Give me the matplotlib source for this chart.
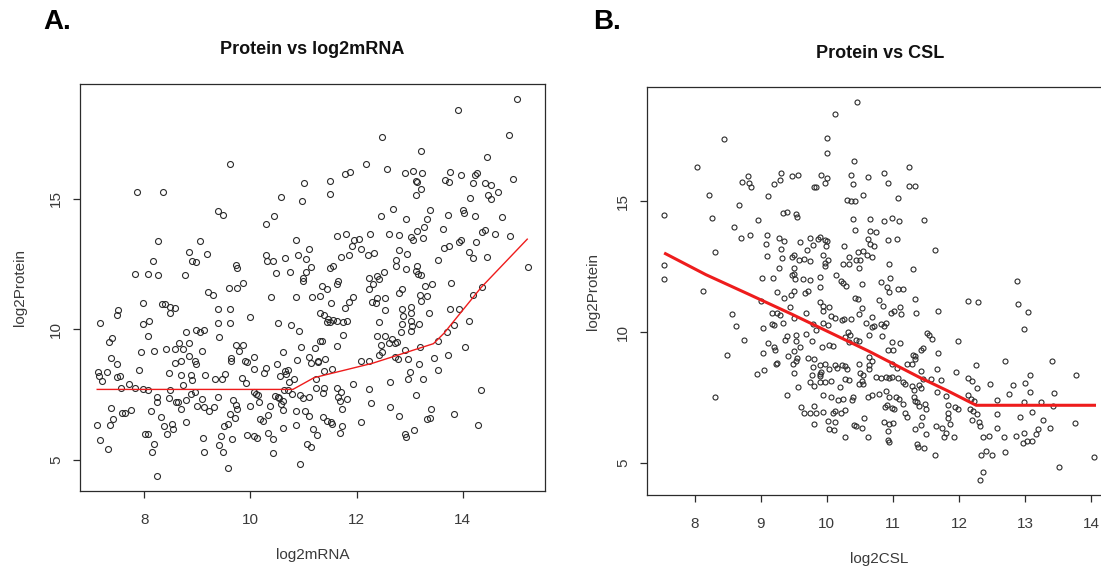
import numpy as np
import matplotlib.pyplot as plt

plt.rcParams['font.family'] = ['Liberation Sans', 'DejaVu Sans']

# panel A: log2mRNA vs log2Protein
mrna_pts = [
    (7.86, 15.24), (8.35, 15.24), (9.39, 14.54), (9.48, 14.38), (8.25, 13.38), (9.04, 13.38),
    (8.85, 12.97), (9.18, 12.88), (8.16, 12.63), (8.89, 12.63), (8.98, 12.59), (7.82, 12.12),
    (8.06, 12.12), (8.25, 12.09), (8.77, 12.09), (9.20, 11.44), (9.29, 11.33), (7.97, 10.99),
    (8.33, 10.96), (8.38, 10.96), (8.49, 10.86), (8.58, 10.81), (8.48, 10.63), (7.50, 10.73),
    (7.48, 10.54), (9.38, 10.77), (7.17, 10.23), (7.97, 10.19), (8.08, 10.31), (9.38, 10.26),
    (8.06, 9.74), (8.98, 9.96), (9.04, 9.90), (9.13, 9.96), (8.79, 9.88), (9.40, 9.69),
    (7.39, 9.67), (7.33, 9.50), (8.65, 9.48), (8.84, 9.48), (8.40, 9.23), (8.57, 9.23),
    (8.72, 9.23), (7.94, 9.13), (8.18, 9.17), (9.08, 9.17), (7.37, 8.90), (7.48, 8.69),
    (8.85, 8.97), (8.57, 8.71), (8.69, 8.79), (8.95, 8.79), (8.98, 8.68), (7.89, 8.45),
    (7.13, 8.38), (7.15, 8.23), (7.20, 8.03), (7.30, 8.36), (7.48, 8.17), (7.54, 8.22),
    (8.46, 8.31), (8.69, 8.26), (8.87, 8.26), (8.89, 8.05), (9.15, 8.26), (9.34, 8.08),
    (9.47, 8.08), (9.52, 8.29), (7.55, 7.76), (7.70, 7.89), (7.82, 7.76), (7.97, 7.72),
    (8.06, 7.68), (8.48, 7.69), (8.72, 7.87), (8.87, 7.53), (8.96, 7.62), (8.23, 7.40),
    (8.23, 7.23), (8.46, 7.37), (8.60, 7.21), (8.63, 7.21), (8.69, 6.95), (8.79, 7.30),
    (9.00, 7.05), (9.09, 7.33), (9.13, 7.01), (9.22, 6.88), (9.31, 7.01), (9.38, 7.41),
    (7.37, 7.00), (7.41, 6.56), (7.35, 6.35), (7.58, 6.78), (7.63, 6.78), (7.75, 6.92),
    (8.13, 6.89), (7.11, 6.35), (7.17, 5.78), (7.31, 5.41), (8.31, 6.65), (8.78, 6.46),
    (8.36, 6.31), (8.52, 6.37), (8.43, 5.99), (8.53, 6.17), (8.01, 5.99), (8.07, 6.01),
    (8.19, 5.63), (8.14, 5.29), (9.11, 5.86), (9.13, 5.32), (9.44, 5.90), (9.41, 5.56),
    (9.48, 5.32), (9.50, 6.31), (8.23, 4.39),
    (9.62, 16.31), (11.01, 15.58), (11.50, 15.69), (11.50, 15.19), (11.78, 15.95), (11.88, 16.03),
    (12.18, 16.31), (10.57, 15.05), (10.98, 14.90), (10.29, 14.03), (10.44, 14.32), (10.85, 13.41),
    (11.11, 13.08), (11.63, 13.56), (11.80, 13.65), (11.95, 13.42), (12.04, 13.45), (11.92, 13.17),
    (12.09, 13.08), (12.26, 13.65), (12.21, 12.85), (10.30, 12.85), (10.31, 12.62), (10.43, 12.63),
    (10.65, 12.73), (10.90, 12.85), (11.05, 12.69), (11.14, 12.40), (11.04, 12.21), (10.48, 12.17),
    (10.74, 12.21), (9.72, 12.46), (9.75, 12.33), (10.99, 11.95), (11.00, 11.86), (11.50, 12.33),
    (11.55, 12.42), (11.70, 12.77), (11.85, 12.83), (11.64, 11.72), (11.66, 11.85), (11.35, 11.64),
    (11.45, 11.56), (9.60, 11.60), (9.75, 11.60), (9.85, 11.78), (10.38, 11.23), (10.85, 11.22),
    (11.16, 11.23), (11.31, 11.26), (11.52, 10.99), (11.79, 10.82), (11.85, 11.05), (11.93, 11.23),
    (12.24, 11.97), (12.24, 11.56), (12.29, 11.05), (9.62, 10.76), (9.99, 10.46), (9.62, 10.26),
    (10.52, 10.26), (10.76, 10.15), (10.92, 9.92), (11.31, 10.64), (11.38, 10.56), (11.47, 10.41),
    (11.50, 10.28), (11.44, 10.28), (11.55, 10.35), (11.63, 10.33), (11.75, 10.28), (11.83, 10.33),
    (11.74, 9.79), (11.35, 9.56), (11.31, 9.54), (11.22, 9.28), (10.96, 9.32), (11.63, 9.37),
    (9.72, 9.41), (9.85, 9.41), (9.79, 9.18), (9.63, 8.90), (9.63, 8.79), (9.90, 8.79),
    (9.93, 8.76), (10.07, 8.94), (10.07, 8.50), (10.29, 8.51), (10.26, 8.33), (10.61, 9.12),
    (10.50, 8.67), (10.66, 8.42), (10.70, 8.44), (10.67, 8.29), (10.87, 8.81), (11.11, 8.94),
    (11.14, 8.73), (11.27, 8.78), (11.28, 8.76), (11.41, 8.85), (11.53, 8.48), (11.38, 8.39),
    (11.24, 8.10), (9.84, 8.13), (9.92, 7.94), (10.55, 8.21), (10.72, 8.00), (10.82, 8.10),
    (11.23, 7.74), (11.39, 7.74), (11.36, 7.58), (11.63, 7.74), (11.70, 7.62), (11.93, 7.91),
    (12.09, 8.79), (12.24, 8.79), (10.07, 7.62), (10.10, 7.53), (10.15, 7.49), (10.63, 7.69),
    (10.70, 7.69), (10.79, 7.53), (10.47, 7.46), (10.51, 7.40), (10.53, 7.36), (10.62, 7.27),
    (10.58, 7.14), (10.62, 6.91), (9.68, 7.28), (9.73, 7.10), (9.75, 6.97), (9.99, 7.05),
    (10.17, 7.20), (10.37, 7.05), (10.94, 7.49), (11.00, 7.36), (11.11, 7.40), (11.66, 7.41),
    (11.68, 7.27), (11.83, 7.32), (11.73, 6.95), (12.23, 7.73), (12.28, 7.18), (9.62, 6.76),
    (9.71, 6.59), (9.57, 6.37), (9.65, 5.79), (10.18, 6.56), (10.23, 6.50), (10.33, 6.72),
    (10.86, 6.88), (11.02, 6.88), (11.11, 6.67), (10.86, 6.33), (10.61, 6.21), (11.36, 6.63),
    (11.45, 6.50), (11.52, 6.44), (11.54, 6.37), (11.72, 6.31), (11.69, 6.05), (11.18, 6.18),
    (11.26, 5.96), (9.93, 5.96), (10.07, 5.90), (10.12, 5.86), (10.34, 6.05), (10.42, 5.79),
    (12.09, 6.47), (11.07, 5.63), (11.14, 5.49), (10.42, 5.26), (10.94, 4.85), (9.58, 4.69),
    (15.02, 18.81), (13.92, 18.40), (14.88, 17.44), (12.49, 17.37), (13.22, 16.83), (14.46, 16.58),
    (12.58, 16.12), (12.92, 16.00), (13.07, 16.06), (13.24, 15.99), (13.13, 15.69), (13.15, 15.65),
    (13.21, 15.36), (13.12, 15.13), (13.77, 16.01), (13.66, 15.70), (13.75, 15.64), (13.98, 15.90),
    (14.19, 15.59), (14.24, 15.92), (14.27, 15.97), (14.42, 15.58), (14.54, 15.54), (14.66, 15.24),
    (14.48, 15.15), (14.53, 14.99), (14.14, 15.01), (14.96, 15.77), (12.68, 14.60), (12.47, 14.33),
    (12.93, 14.24), (13.39, 14.55), (13.33, 14.21), (13.27, 13.90), (13.15, 13.77), (13.03, 13.54),
    (13.07, 13.41), (13.26, 13.49), (13.73, 14.37), (14.01, 14.56), (14.03, 14.45), (14.23, 14.33),
    (14.75, 14.30), (12.61, 13.65), (12.81, 13.62), (13.63, 13.83), (14.36, 13.74), (14.42, 13.79),
    (14.62, 13.65), (14.90, 13.58), (13.97, 13.42), (13.94, 13.36), (14.25, 13.36), (13.65, 13.13),
    (13.75, 13.18), (12.80, 13.03), (12.95, 12.88), (12.33, 12.92), (12.75, 12.67), (12.75, 12.42),
    (12.94, 12.32), (13.54, 12.67), (14.13, 12.97), (14.20, 12.74), (14.47, 12.77), (13.15, 12.44),
    (13.12, 12.24), (13.16, 12.12), (13.22, 12.08), (12.51, 12.21), (12.38, 12.05), (12.42, 11.92),
    (12.31, 11.72), (12.85, 11.56), (12.81, 11.40), (13.29, 11.64), (13.43, 11.74), (13.78, 11.78),
    (13.20, 11.33), (13.32, 11.28), (13.21, 11.10), (14.19, 11.33), (14.36, 11.62), (12.39, 11.20),
    (12.54, 11.20), (12.36, 10.99), (12.53, 10.72), (12.86, 10.77), (13.03, 10.86), (12.88, 10.50),
    (13.02, 10.63), (13.36, 10.64), (13.76, 10.77), (13.93, 10.77), (12.42, 10.27), (12.86, 10.21),
    (13.03, 10.33), (13.05, 10.13), (13.17, 10.19), (13.03, 9.95), (12.83, 9.88), (14.12, 10.33),
    (13.84, 10.15), (13.70, 9.88), (12.39, 9.74), (12.54, 9.74), (12.66, 9.62), (12.46, 9.41),
    (12.61, 9.49), (12.72, 9.49), (12.77, 9.53), (13.53, 9.54), (13.19, 9.32), (14.04, 9.31),
    (12.42, 9.03), (12.48, 9.13), (12.92, 9.19), (12.73, 8.94), (12.78, 8.85), (12.98, 8.85),
    (13.47, 8.90), (13.73, 9.00), (13.17, 8.68), (13.00, 8.38), (12.97, 8.10), (13.25, 8.10),
    (13.54, 8.45), (12.63, 8.00), (13.13, 7.49), (14.34, 7.68), (12.63, 7.03), (12.80, 6.69),
    (13.41, 6.97), (13.39, 6.62), (13.32, 6.58), (13.83, 6.77), (14.29, 6.32), (12.92, 5.99),
    (12.93, 5.89), (13.09, 6.14), (15.23, 12.38),
]

# panel B: log2CSL vs log2Protein
csl_pts = [
    (8.44, 17.37), (8.03, 16.30), (8.22, 15.23), (8.67, 14.87), (7.54, 14.48), (8.27, 14.36),
    (8.60, 14.01), (8.96, 14.30), (8.72, 15.75), (8.81, 15.97), (8.82, 15.69), (8.85, 15.53),
    (9.30, 16.08), (9.29, 15.83), (9.20, 15.65), (9.47, 15.95), (9.11, 15.19), (9.34, 14.56),
    (9.40, 14.59), (8.70, 13.61), (8.84, 13.73), (9.10, 13.73), (9.08, 13.37), (9.27, 13.61),
    (9.36, 13.50), (9.31, 13.19), (9.10, 12.93), (9.33, 12.85), (9.47, 12.89), (8.31, 13.05),
    (7.54, 12.58), (7.54, 12.05), (8.13, 11.57), (9.27, 12.46), (9.02, 12.09), (9.18, 12.09),
    (9.47, 12.19), (9.25, 11.52), (9.36, 11.32), (9.46, 11.41), (9.01, 11.20), (9.45, 10.97),
    (8.57, 10.71), (9.17, 10.75), (9.24, 10.75), (9.29, 10.66), (8.62, 10.24), (8.75, 9.71),
    (9.04, 10.17), (9.17, 10.31), (9.20, 10.28), (9.34, 10.36), (8.49, 9.13), (9.11, 9.58),
    (9.20, 9.45), (9.22, 9.33), (9.37, 9.69), (9.40, 9.86), (9.03, 9.19), (9.25, 8.83),
    (9.23, 8.78), (9.42, 9.10), (9.49, 8.78), (8.95, 8.40), (9.05, 8.55), (8.31, 7.54),
    (9.40, 7.61),
    (10.45, 18.79), (10.13, 18.35), (10.00, 17.43), (10.00, 16.83), (10.41, 16.54), (11.24, 16.30),
    (9.56, 15.99), (9.91, 16.02), (10.00, 15.90), (9.97, 15.70), (9.80, 15.53), (9.84, 15.55),
    (10.37, 15.99), (10.39, 15.66), (10.63, 15.94), (10.87, 16.07), (10.92, 15.69), (10.30, 15.06),
    (10.36, 15.03), (10.43, 15.01), (10.55, 15.23), (11.08, 15.14), (11.25, 15.57), (11.33, 15.59),
    (9.54, 14.53), (9.55, 14.42), (10.39, 14.31), (10.65, 14.31), (10.87, 14.25), (10.98, 14.35),
    (11.10, 14.25), (11.47, 14.30), (10.43, 13.91), (10.65, 13.87), (10.75, 13.83), (10.62, 13.55),
    (10.65, 13.36), (10.71, 13.30), (10.92, 13.52), (11.06, 13.55), (11.64, 13.14), (9.60, 13.45),
    (9.75, 13.61), (9.86, 13.55), (9.90, 13.64), (9.98, 13.52), (10.00, 13.49), (9.79, 13.32),
    (9.50, 12.94), (9.58, 12.76), (9.66, 12.79), (9.74, 12.72), (9.70, 13.14), (9.95, 12.94),
    (9.98, 12.63), (9.98, 12.53), (10.02, 12.76), (9.99, 13.31), (10.26, 13.31), (10.34, 12.87),
    (10.24, 12.60), (10.33, 12.60), (10.47, 13.07), (10.55, 13.10), (10.61, 12.95), (10.69, 12.87),
    (10.44, 12.75), (10.51, 12.76), (10.49, 12.46), (10.94, 12.62), (11.30, 12.43), (9.51, 12.47),
    (9.50, 12.24), (9.52, 12.05), (9.64, 12.02), (9.74, 11.99), (9.89, 12.11), (10.14, 12.19),
    (10.21, 11.95), (10.24, 11.88), (10.29, 11.77), (10.54, 11.83), (10.82, 11.92), (10.91, 11.71),
    (10.94, 11.54), (10.95, 12.07), (11.08, 11.67), (11.15, 11.67), (9.51, 11.58), (9.67, 11.49),
    (9.71, 11.59), (9.89, 11.74), (9.89, 11.16), (9.95, 11.02), (9.95, 10.81), (10.03, 10.98),
    (10.43, 11.32), (10.47, 11.26), (10.53, 10.94), (10.79, 11.22), (10.85, 11.00), (10.97, 10.74),
    (11.01, 10.81), (11.11, 10.97), (11.33, 11.28), (11.35, 10.74), (11.68, 10.80), (9.68, 10.73),
    (9.50, 10.56), (10.06, 10.62), (10.13, 10.56), (10.23, 10.47), (10.26, 10.50), (10.36, 10.50),
    (10.49, 10.69), (10.69, 10.60), (10.69, 10.20), (10.82, 10.33), (10.89, 10.36), (10.86, 10.22),
    (10.71, 10.23), (10.59, 10.34), (11.12, 10.69), (9.79, 10.33), (9.94, 10.37), (10.02, 10.27),
    (9.83, 10.08), (9.69, 9.92), (9.54, 9.90), (9.54, 9.67), (9.59, 9.45), (9.78, 9.67),
    (9.93, 9.45), (10.09, 9.47), (10.03, 9.53), (10.32, 9.99), (10.35, 9.90), (10.27, 9.80),
    (10.44, 9.70), (10.34, 9.61), (10.49, 9.66), (10.64, 9.90), (10.84, 9.86), (10.99, 9.63),
    (11.11, 9.58), (10.92, 9.33), (11.00, 9.33), (11.51, 9.96), (11.55, 9.90), (11.59, 9.75),
    (11.45, 9.39), (11.42, 9.33), (11.68, 9.21), (9.50, 9.29), (9.55, 9.01), (9.54, 8.92),
    (9.71, 9.01), (9.80, 8.96), (9.79, 8.69), (9.89, 8.74), (9.97, 8.80), (10.04, 8.61),
    (10.12, 8.74), (10.16, 8.65), (10.23, 8.74), (10.28, 8.72), (10.30, 8.59), (10.49, 8.77),
    (10.64, 9.06), (10.69, 8.91), (10.64, 8.74), (10.64, 8.59), (10.51, 8.46), (10.55, 8.36),
    (10.54, 8.14), (10.75, 8.30), (10.82, 8.27), (10.89, 8.30), (10.94, 8.27), (10.99, 8.30),
    (11.08, 8.27), (10.99, 8.77), (11.06, 8.65), (11.31, 9.12), (11.34, 9.10), (11.33, 8.97),
    (11.21, 8.80), (11.29, 8.80), (11.43, 8.52), (11.46, 8.23), (11.58, 8.21), (11.66, 8.59),
    (9.50, 8.46), (9.56, 7.89), (9.78, 8.37), (9.91, 8.50), (9.89, 8.40), (9.90, 8.31),
    (9.90, 8.08), (9.75, 8.10), (9.80, 7.95), (9.98, 8.10), (10.06, 8.14), (10.28, 8.23),
    (10.34, 8.17), (10.49, 8.02), (10.55, 8.03), (10.20, 7.89), (11.16, 8.10), (11.19, 8.02),
    (11.29, 7.95), (11.32, 7.80), (11.39, 7.98), (11.43, 7.86), (11.73, 8.18), (11.66, 7.70),
    (10.63, 7.53), (10.69, 7.62), (10.79, 7.63), (10.89, 7.76), (10.94, 7.52), (9.95, 7.61),
    (10.07, 7.51), (10.17, 7.43), (10.24, 7.44), (10.38, 7.43), (10.40, 7.51), (9.61, 7.16),
    (9.66, 6.93), (9.74, 6.93), (9.84, 6.93), (9.81, 7.19), (9.95, 6.96), (10.13, 7.00),
    (10.10, 6.90), (10.22, 6.93), (10.27, 7.02), (10.91, 7.23), (10.88, 7.15), (11.04, 7.51),
    (11.10, 7.44), (11.15, 7.25), (10.98, 7.10), (11.02, 7.07), (11.19, 6.93), (11.21, 6.78),
    (11.32, 7.51), (11.34, 7.38), (11.36, 7.32), (11.40, 7.19), (11.49, 7.25), (11.50, 7.06),
    (11.44, 6.76), (9.81, 6.49), (10.02, 6.62), (10.13, 6.58), (10.41, 6.46), (10.44, 6.41),
    (10.56, 6.74), (10.54, 6.36), (10.28, 5.98), (10.63, 5.98), (10.87, 6.59), (10.94, 6.49),
    (10.93, 6.22), (10.92, 5.87), (10.94, 5.80), (11.00, 6.54), (11.33, 6.30), (11.43, 6.44),
    (11.50, 6.11), (11.65, 6.43), (11.74, 6.36), (11.78, 5.98), (11.37, 5.73), (11.38, 5.60),
    (11.47, 5.56), (11.63, 5.32), (10.03, 6.30), (10.11, 6.26),
    (12.88, 11.96), (12.14, 11.20), (12.29, 11.17), (12.89, 11.06), (13.04, 10.77), (12.99, 10.13),
    (11.98, 9.67), (11.95, 8.50), (12.14, 8.24), (12.20, 8.14), (12.27, 7.86), (12.26, 8.74),
    (12.70, 8.89), (13.41, 8.89), (13.77, 8.35), (11.80, 7.57), (11.84, 7.23), (11.94, 7.15),
    (11.99, 7.06), (11.84, 6.93), (11.84, 6.74), (11.86, 6.50), (11.80, 6.17), (11.92, 5.98),
    (12.13, 7.61), (12.18, 7.44), (12.22, 7.37), (12.16, 7.06), (12.21, 7.00), (12.20, 6.64),
    (12.28, 6.87), (12.30, 6.58), (12.32, 6.42), (12.47, 8.04), (12.58, 7.40), (12.75, 7.63),
    (12.81, 7.99), (13.00, 8.07), (13.07, 8.36), (13.08, 7.72), (12.99, 7.34), (13.24, 7.33),
    (13.44, 7.69), (13.43, 7.18), (12.58, 6.87), (12.93, 6.78), (13.10, 6.96), (13.27, 6.65),
    (13.38, 6.34), (13.20, 6.30), (13.17, 6.13), (13.76, 6.54), (12.36, 5.98), (12.46, 6.04),
    (12.58, 6.34), (12.68, 5.98), (12.87, 6.04), (12.98, 6.15), (13.03, 5.83), (12.97, 5.76),
    (13.11, 5.85), (12.41, 5.47), (12.33, 5.31), (12.50, 5.31), (12.70, 5.41), (12.36, 4.66),
    (12.32, 4.36), (13.52, 4.84), (14.04, 5.22),
]

# smoothed fit lines
mrna_fit_x = [7.11, 10.80, 11.20, 12.30, 13.45, 13.65, 14.35, 15.22]
mrna_fit_y = [7.70, 7.70, 8.15, 8.70, 9.45, 9.85, 11.60, 13.45]
csl_fit_x = [7.56, 8.17, 8.82, 9.47, 10.64, 11.40, 11.83, 12.26, 14.05]
csl_fit_y = [13.00, 12.20, 11.45, 10.69, 9.27, 8.28, 7.76, 7.21, 7.21]

W, H = 1101, 567
fig = plt.figure(figsize=(W / 100, H / 100), dpi=100)
ink = '#2b2b2b'
txt = '#3a3a3a'


def panel(rect, pts, fx, fy, fit_lw, ms, xticks, xlabel, ylabpad):
    ax = fig.add_axes(rect)
    x, y = np.array(pts).T
    ax.plot(x, y, 'o', mfc='none', mec=ink, ms=ms, mew=0.8)
    ax.plot(fx, fy, color='#ee1c1c', lw=fit_lw)
    pad_x = 0.04 * (x.max() - x.min())
    pad_y = 0.04 * (y.max() - y.min())
    ax.set_xlim(x.min() - pad_x, x.max() + pad_x)
    ax.set_ylim(y.min() - pad_y, y.max() + pad_y)
    ax.set_xticks(xticks)
    ax.set_yticks([5, 10, 15])
    for s in ax.spines.values():
        s.set_color(ink)
        s.set_linewidth(0.9)
    ax.tick_params(direction='out', length=5, width=0.9, color=ink,
                   labelcolor=txt, labelsize=11)
    ax.tick_params(axis='x', pad=11)
    ax.tick_params(axis='y', pad=7)
    plt.setp(ax.get_yticklabels(), rotation=90, va='center')
    ax.set_xlabel(xlabel, fontsize=11, color=txt, labelpad=15)
    ax.set_ylabel('log2Protein', fontsize=11, color=txt, labelpad=ylabpad)
    return ax


axA = panel([80 / W, 1 - 491 / H, 465 / W, 407 / H], mrna_pts, mrna_fit_x, mrna_fit_y,
            1.0, 4.3, [8, 10, 12, 14], 'log2mRNA', 16)
axB = panel([647 / W, 1 - 495 / H, 464 / W, 408 / H], csl_pts, csl_fit_x, csl_fit_y,
            2.2, 3.6, [8, 9, 10, 11, 12, 13, 14], 'log2CSL', 12)

fig.text(312 / W, 1 - 50 / H, 'Protein vs log2mRNA', ha='center', va='center',
         fontsize=13, fontweight='bold', color='#111111')
fig.text(880 / W, 1 - 54 / H, 'Protein vs CSL', ha='center', va='center',
         fontsize=13, fontweight='bold', color='#111111')
fig.text(57 / W, 1 - 22 / H, 'A.', ha='center', va='center', fontsize=20,
         fontweight='bold', color='black')
fig.text(607 / W, 1 - 22 / H, 'B.', ha='center', va='center', fontsize=20,
         fontweight='bold', color='black')

fig.savefig('out.png', dpi=100)
